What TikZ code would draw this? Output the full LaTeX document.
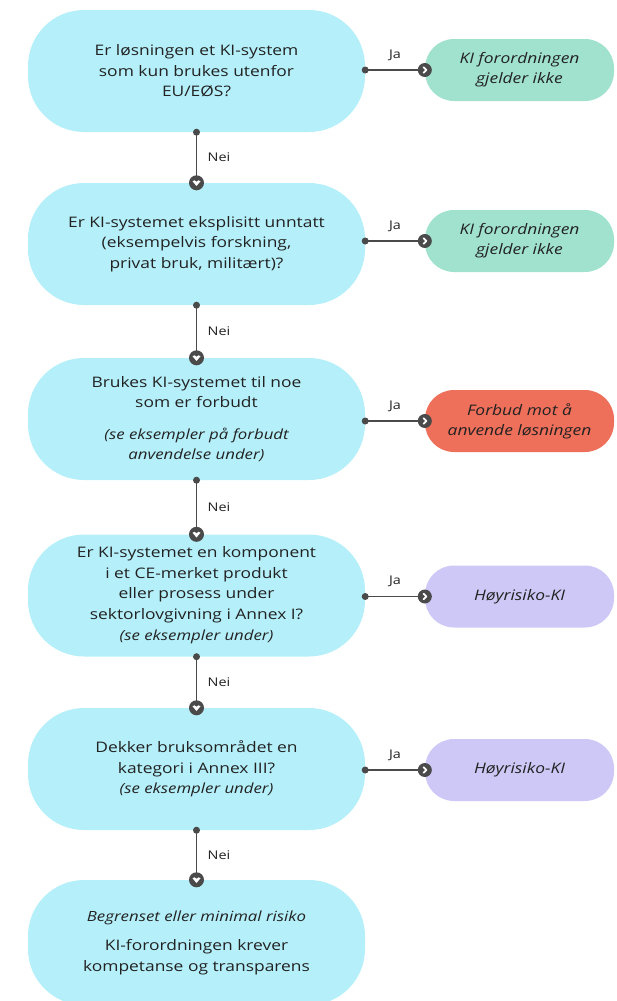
\documentclass[tikz,border=0pt]{standalone}
\usepackage{fontspec}
\setmainfont{Open Sans}[FakeStretch=1.2]
\usetikzlibrary{calc}
\definecolor{qblue}{HTML}{B5F0FA}
\definecolor{rgreen}{HTML}{A0E2CD}
\definecolor{rred}{HTML}{EE6F5A}
\definecolor{rpurple}{HTML}{CEC8F7}
\definecolor{linec}{HTML}{4A4A4A}
\definecolor{txt}{HTML}{222222}
\tikzset{
  qbox/.style={rectangle, rounded corners=56pt, fill=qblue, minimum width=337pt, minimum height=122pt, align=center, text=txt, font=\fontsize{14.5}{20.5}\selectfont, inner sep=0pt},
  rbox/.style={rectangle, rounded corners=29pt, minimum width=189pt, minimum height=62pt, align=center, text=txt, font=\fontsize{14.5}{20}\selectfont\itshape, inner sep=0pt},
  conn/.style={draw=linec, line width=1.3pt},
  lbl/.style={font=\fontsize{12}{14}\selectfont, text=txt, inner sep=0pt},
  startdot/.style={circle, fill=linec, inner sep=0pt, minimum size=7pt},
  endright/.style={circle, fill=linec, inner sep=0pt, minimum size=14pt,
    path picture={\draw[white, line width=1.8pt, line cap=round, line join=round]
      ([xshift=-1.2pt,yshift=2.8pt]path picture bounding box.center) --
      ([xshift=1.6pt]path picture bounding box.center) --
      ([xshift=-1.2pt,yshift=-2.8pt]path picture bounding box.center);}},
  enddown/.style={circle, fill=linec, inner sep=0pt, minimum size=15pt,
    path picture={\fill[white]
      ([xshift=-4pt,yshift=1.5pt]path picture bounding box.center) --
      ([xshift=0pt,yshift=-3.2pt]path picture bounding box.center) --
      ([xshift=4pt,yshift=1.5pt]path picture bounding box.center) --
      ([xshift=2pt,yshift=2.5pt]path picture bounding box.center) --
      ([xshift=0pt,yshift=1pt]path picture bounding box.center) --
      ([xshift=-2pt,yshift=2.5pt]path picture bounding box.center) -- cycle;}},
}
\newcommand{\smallit}{\fontsize{14}{20}\selectfont\itshape}
\begin{document}
\begin{tikzpicture}[x=1pt,y=-1pt]
\useasboundingbox (0,0) rectangle (616,1001);
\clip (0,0) rectangle (616,1001);
% question boxes
\node[qbox] (q1) at (196.5,71) {Er løsningen et KI-system\\som kun brukes utenfor\\EU/EØS?};
\node[qbox] (q2) at (196.5,244) {Er KI-systemet eksplisitt unntatt\\(eksempelvis forskning,\\privat bruk, militært)?};
\node[qbox] (q3) at (196.5,419) {Brukes KI-systemet til noe\\som er forbudt\\[11pt]{\smallit (se eksempler på forbudt}\\{\smallit anvendelse under)}};
\node[qbox] (q4) at (196.5,595.5) {Er KI-systemet en komponent\\i et CE-merket produkt\\eller prosess under\\sektorlovgivning i Annex I?\\[1pt]{\smallit (se eksempler under)}};
\node[qbox] (q5) at (196.5,769) {Dekker bruksområdet en\\kategori i Annex III?\\{\smallit (se eksempler under)}};
\node[qbox, minimum height=125pt] (q6) at (196.5,942.5) {{\smallit Begrenset eller minimal risiko}\\[9pt]KI-forordningen krever\\kompetanse og transparens};
% result boxes
\node[rbox, fill=rgreen] (r1) at (519.5,70) {KI forordningen\\gjelder ikke};
\node[rbox, fill=rgreen] (r2) at (519.5,241) {KI forordningen\\gjelder ikke};
\node[rbox, fill=rred] (r3) at (519.5,421) {Forbud mot å\\anvende løsningen};
\node[rbox, fill=rpurple] (r4) at (519.5,596.5) {Høyrisiko-KI};
\node[rbox, fill=rpurple] (r5) at (519.5,770) {Høyrisiko-KI};
% horizontal connectors (Ja)
\foreach \q/\r in {q1/r1,q2/r2,q3/r3,q4/r4,q5/r5}{
  \coordinate (s\q) at (\q.east |- \r.west);
  \draw[conn] (s\q) -- (\r.west);
  \node[startdot] at (s\q) {};
  \node[endright] at (\r.west) {};
  \node[lbl] at ($(s\q)!0.5!(\r.west)+(0,-15)$) {Ja};
}
% vertical connectors (Nei)
\foreach \a/\b in {q1/q2,q2/q3,q3/q4,q4/q5,q5/q6}{
  \draw[conn] (\a.south) -- (\b.north);
  \node[startdot] at (\a.south) {};
  \node[enddown] at (\b.north) {};
  \node[lbl, anchor=west] at ($(\a.south)!0.5!(\b.north)+(11,0)$) {Nei};
}
\end{tikzpicture}
\end{document}
